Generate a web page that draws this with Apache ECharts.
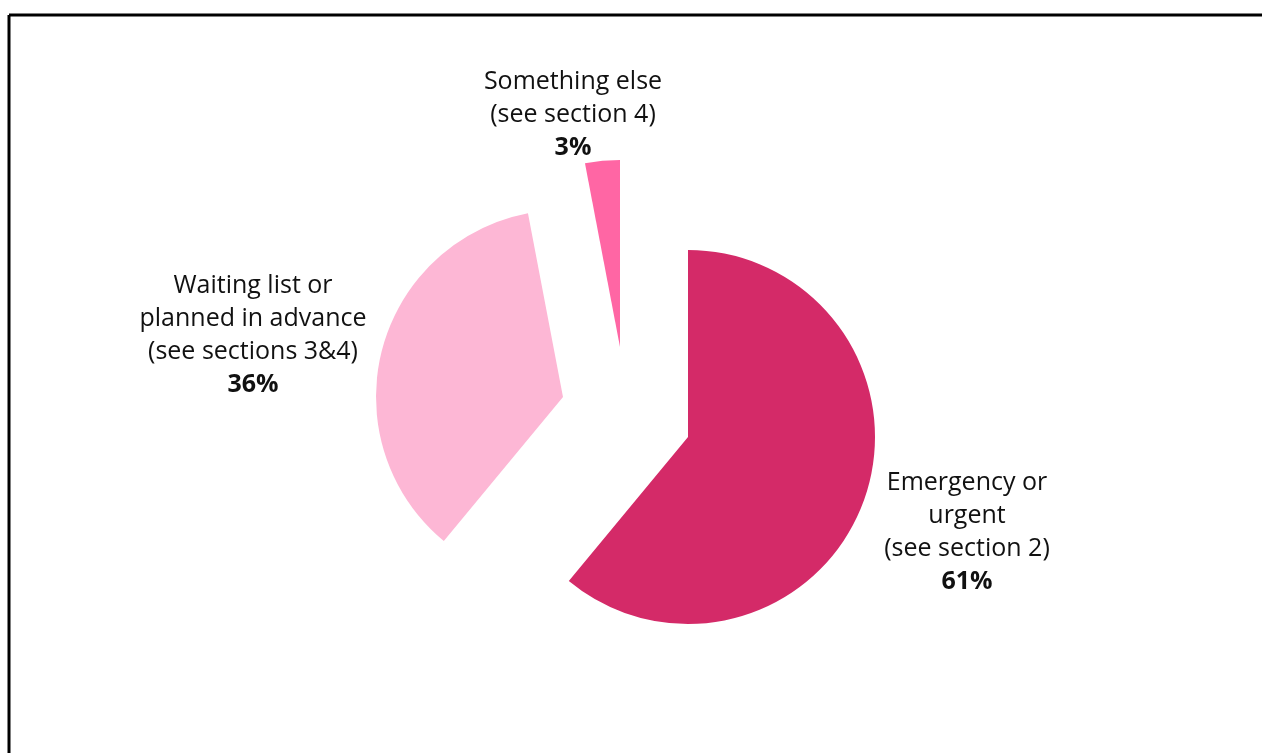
<!DOCTYPE html>
<html>
<head>
<meta charset="utf-8">
<script src="https://cdn.jsdelivr.net/npm/echarts@6/dist/echarts.min.js"></script>
<style>
  html, body { margin: 0; padding: 0; background: #fff; }
  #chart { width: 1262px; height: 753px; }
</style>
</head>
<body>
<div id="chart"></div>
<script>
// Admission types and their shares (%)
const categories = ['Emergency or urgent', 'Waiting list or planned in advance', 'Something else'];
const labelLines = [
  ['Emergency or', 'urgent', '(see section 2)'],
  ['Waiting list or', 'planned in advance', '(see sections 3&4)'],
  ['Something else', '(see section 4)']
];
const shares = [61, 36, 3];

const colors = ['#D42A68', '#FDB7D5', '#FF66A4'];
// each slice is pulled out from the pie by its own amount
const centers = [[688, 437], [563, 397], [620, 347]];
const labelPos = [[967, 532], [253, 335], [573, 115]];
const FONT = '"Open Sans"';

const chart = echarts.init(document.getElementById('chart'), null, { renderer: 'canvas' });

const series = categories.map((cat, i) => ({
  type: 'pie',
  center: centers[i],
  radius: 187,
  startAngle: 90,
  clockwise: true,
  avoidLabelOverlap: false,
  silent: true,
  animation: false,
  emphasis: { disabled: true },
  labelLine: { show: false },
  label: {
    position: 'outside',
    formatter: (p) => labelLines[p.dataIndex].map(l => '{n|' + l + '}').join('\n') + '\n{p|' + p.value + '%}',
    rich: {
      n: { fontFamily: FONT, fontSize: 25, lineHeight: 33, color: '#111', align: 'center' },
      p: { fontFamily: FONT, fontSize: 25, lineHeight: 33, fontWeight: 'bold', color: '#111', align: 'center' }
    }
  },
  labelLayout: () => ({ x: labelPos[i][0], y: labelPos[i][1], align: 'center', verticalAlign: 'middle' }),
  data: categories.map((c, j) => ({
    name: c,
    value: shares[j],
    itemStyle: { color: j === i ? colors[j] : 'rgba(0,0,0,0)' },
    label: { show: j === i }
  }))
}));

chart.setOption({
  animation: false,
  backgroundColor: '#fff',
  graphic: [
    { type: 'line', shape: { x1: 9, y1: 15, x2: 1262, y2: 15 }, style: { stroke: '#000', lineWidth: 3 } },
    { type: 'line', shape: { x1: 9, y1: 15, x2: 9, y2: 753 }, style: { stroke: '#000', lineWidth: 3 } }
  ],
  series: series
});
</script>
</body>
</html>
